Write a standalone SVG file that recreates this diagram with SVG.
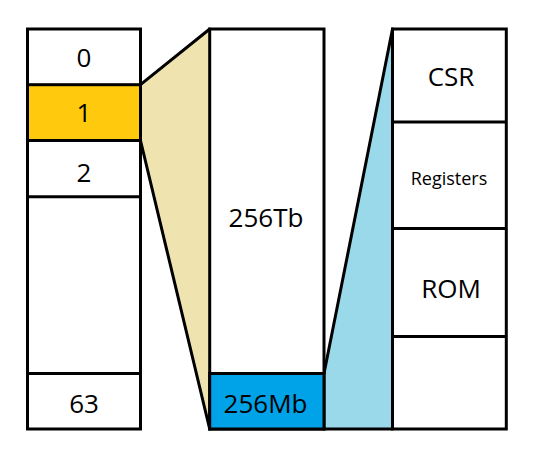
<svg xmlns="http://www.w3.org/2000/svg" width="540" height="458" viewBox="0 0 540 458">
<style>
.box{fill:#ffffff;stroke:#000000;stroke-width:3}
.sep{stroke:#000000;stroke-width:3;fill:none}
.edge{stroke:#000000;stroke-width:3;fill:none;stroke-linecap:round}
.t{font-family:"Open Sans","Liberation Sans",sans-serif;font-size:26px;fill:#000000;text-anchor:middle}
.s{font-size:18px}
</style>
<rect width="540" height="458" fill="#ffffff"/>
<g id="connectors">
  <polygon points="140.5,84.7 209.7,29 209.7,429 140.5,140.5" fill="#EFE4B0"/>
  <polygon points="324,373.5 392.5,29 392.5,429 324,429" fill="#99D9EA"/>
  <line class="edge" x1="140.5" y1="84.7" x2="209.7" y2="29"/>
  <line class="edge" x1="140.5" y1="140.5" x2="209.7" y2="429"/>
  <line class="edge" x1="324" y1="373.5" x2="392.5" y2="29"/>
  <line class="edge" x1="324" y1="429" x2="392.5" y2="429"/>
</g>
<g id="slots">
  <rect class="box" x="27.5" y="29" width="113" height="400"/>
  <rect x="27.5" y="84.7" width="113" height="55.8" fill="#FFC90E" stroke="#000000" stroke-width="3"/>
  <line class="sep" x1="27.5" y1="196.7" x2="140.5" y2="196.7"/>
  <line class="sep" x1="27.5" y1="373.5" x2="140.5" y2="373.5"/>
  <text class="t" x="84" y="66.5">0</text>
  <text class="t" x="84" y="122">1</text>
  <text class="t" x="84" y="181.5">2</text>
  <text class="t" x="84" y="413">63</text>
</g>
<g id="space">
  <rect class="box" x="209.7" y="29" width="114.3" height="400"/>
  <rect x="209.7" y="373.5" width="114.3" height="55.5" fill="#00A2E8" stroke="#000000" stroke-width="3"/>
  <text class="t" x="266" y="226.5">256Tb</text>
  <text class="t" x="265.5" y="412.5">256Mb</text>
</g>
<g id="map">
  <rect class="box" x="392.5" y="29" width="113.8" height="400"/>
  <line class="sep" x1="392.5" y1="122" x2="506.3" y2="122"/>
  <line class="sep" x1="392.5" y1="228.5" x2="506.3" y2="228.5"/>
  <line class="sep" x1="392.5" y1="336.5" x2="506.3" y2="336.5"/>
  <text class="t" x="451" y="86">CSR</text>
  <text class="t s" x="449" y="185">Registers</text>
  <text class="t" x="451" y="297.5">ROM</text>
</g>
</svg>
